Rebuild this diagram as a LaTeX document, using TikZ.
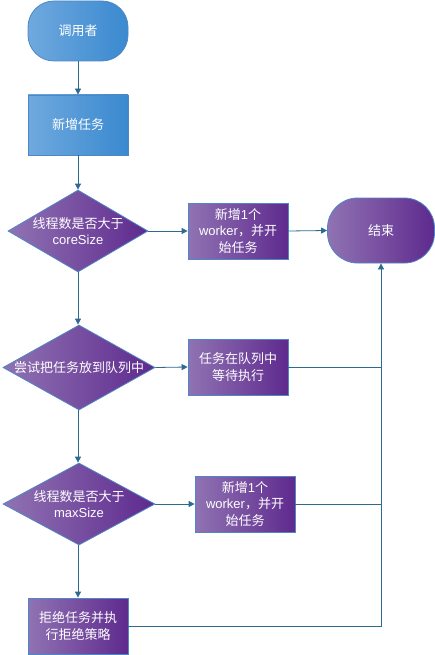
\documentclass[tikz,border=0pt]{standalone}
\usepackage{fontspec}
\setmainfont{Liberation Sans}
\newfontfamily\cjk{Noto Sans CJK SC}
\newfontfamily\lat{Liberation Sans}
\usetikzlibrary{shapes.geometric,arrows.meta}
\definecolor{bluel}{HTML}{6FA9DE}
\definecolor{bluer}{HTML}{3A89CF}
\definecolor{purl}{HTML}{9073B3}
\definecolor{purr}{HTML}{5E2A8E}
\definecolor{edge}{HTML}{4F86C6}
\definecolor{linec}{HTML}{2C6A8E}
\tikzset{
  x=1pt, y=-1pt,
  every node/.style={font=\cjk\fontsize{13}{16.5}\selectfont, text=white, align=center},
  bluefill/.style={left color=bluel, right color=bluer, draw=edge, line width=0.8pt},
  purfill/.style={left color=purl, right color=purr, draw=edge, line width=0.8pt},
  stadium/.style={rectangle, inner sep=0pt},
  boxnode/.style={rectangle, inner sep=0pt},
  dia/.style={diamond, purfill, inner sep=0pt},
  conn/.style={draw=linec, line width=0.8pt},
  arr/.style={conn, -{Triangle[width=6pt,length=6pt]}},
}
\begin{document}
\begin{tikzpicture}
\useasboundingbox (0,0) rectangle (435,655);
% shapes
\node[stadium, bluefill, rounded corners=26pt, minimum width=100pt, minimum height=60pt] (caller) at (78,31) {调用者};
\node[boxnode, bluefill, minimum width=100pt, minimum height=60pt] (task) at (78,125) {新增任务};
\node[dia, minimum width=140pt, minimum height=82pt] (d1) at (78,231) {};
\node at (d1) {线程数是否大于\\{\lat coreSize}};
\node[boxnode, purfill, minimum width=100pt, minimum height=56pt] (b1) at (238,231) {新增{\lat 1}个\\{\lat worker}，并开\\始任务};
\node[stadium, purfill, rounded corners=30pt, minimum width=107pt, minimum height=65pt] (end) at (381,230.5) {结束};
\node[dia, minimum width=152pt, minimum height=85pt] (d2) at (79,367.5) {};
\node at (d2) {尝试把任务放到队列中};
\node[boxnode, purfill, minimum width=100pt, minimum height=56pt] (b2) at (238,367) {任务在队列中\\等待执行};
\node[dia, minimum width=152pt, minimum height=82pt] (d3) at (79,504) {};
\node at (d3) {线程数是否大于\\{\lat maxSize}};
\node[boxnode, purfill, minimum width=100pt, minimum height=56pt] (b3) at (245,504) {新增{\lat 1}个\\{\lat worker}，并开\\始任务};
\node[boxnode, purfill, minimum width=100pt, minimum height=56pt] (b4) at (78,626) {拒绝任务并执\\行拒绝策略};
% connectors
\draw[arr] (caller.south) -- (task.north);
\draw[arr] (task.south) -- (d1.north);
\draw[arr] (d1.east) -- (b1.west);
\draw[arr] (b1.east) -- (end.west);
\draw[arr] (d1.south) -- (d2.north -| d1.south);
\draw[arr] (d2.east) -- (b2.west);
\draw[arr] (d2.south -| d1.south) -- (d3.north -| d1.south);
\draw[arr] (d3.east) -- (b3.west);
\draw[arr] (d3.south -| d1.south) -- (b4.north);
\draw[arr] (b4.east) -| (end.south);
\draw[conn] (b2.east) -- (b2.east -| end.south);
\draw[conn] (b3.east) -- (b3.east -| end.south);
\end{tikzpicture}
\end{document}
